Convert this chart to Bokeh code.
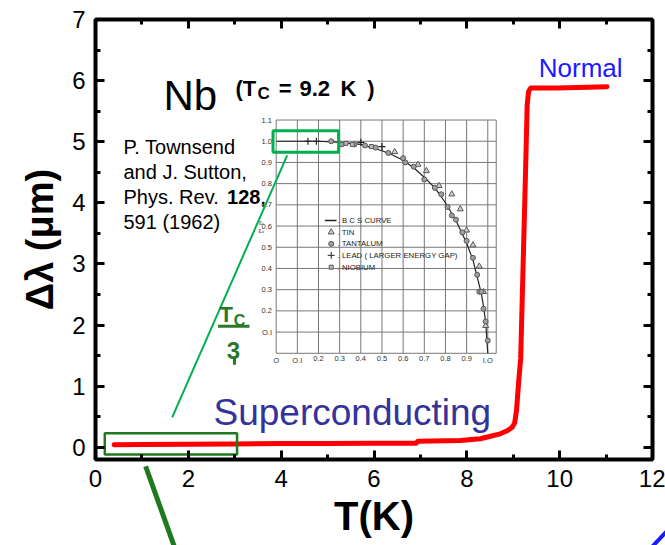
from bokeh.plotting import figure
from bokeh.models import (Range1d, LinearAxis, SingleIntervalTicker, Label,
                          CustomJSTickFormatter)
from bokeh.core.properties import value
from bokeh.embed import file_html
from bokeh.resources import INLINE

FONT = "Liberation Sans"

# ---------------- main data: Nb penetration depth change ----------------
T_K = [0.4, 1.0, 2.0, 3.0, 4.0, 5.0, 6.0, 6.9, 6.95, 7.86, 8.29, 8.51, 8.72,
       8.87, 8.98, 9.03, 9.07, 9.12, 9.16, 9.26, 9.30, 9.33, 9.38, 9.95, 11.02]
dlambda_um = [0.04, 0.045, 0.05, 0.055, 0.06, 0.06, 0.065, 0.065, 0.1, 0.11,
              0.14, 0.18, 0.22, 0.27, 0.33, 0.4, 0.6, 1.1, 1.45, 4.36, 5.6,
              5.82, 5.88, 5.88, 5.90]

# ---------------- inset: Townsend & Sutton (1962) gap vs T/Tc ----------------
bcs_t = [0.0, 0.1, 0.2, 0.3, 0.4, 0.5, 0.55, 0.6, 0.65, 0.7, 0.75, 0.8, 0.85,
         0.9, 0.93, 0.95, 0.97, 0.98, 0.99, 1.0]
bcs_gap = [1.0, 1.0, 1.0, 0.995, 0.985, 0.955, 0.935, 0.91, 0.875, 0.83,
           0.78, 0.71, 0.625, 0.52, 0.44, 0.36, 0.28, 0.22, 0.15, 0.0]
tin_t = [0.56, 0.67, 0.71, 0.77, 0.83, 0.87, 0.9, 0.93, 0.96, 0.98, 0.99]
tin_gap = [0.95, 0.89, 0.86, 0.79, 0.75, 0.68, 0.58, 0.51, 0.41, 0.29, 0.13]
ta_t = [0.26, 0.31, 0.37, 0.42, 0.47, 0.53, 0.6, 0.61, 0.65, 0.7, 0.75, 0.78,
        0.81, 0.83, 0.85, 0.88, 0.9, 0.93, 0.95, 0.96, 0.97, 0.98, 0.99, 1.0]
ta_gap = [1.0, 0.985, 0.985, 0.98, 0.97, 0.945, 0.92, 0.9, 0.88, 0.82, 0.78,
          0.75, 0.69, 0.65, 0.63, 0.57, 0.53, 0.45, 0.37, 0.29, 0.29, 0.21,
          0.15, 0.06]
pb_t = [0.15, 0.19, 0.4, 0.5]
pb_gap = [1.0, 1.0, 0.995, 0.975]
nb_t = [0.33, 0.36, 0.45]
nb_gap = [0.99, 0.985, 0.975]
inset_xticks = [0, 0.1, 0.2, 0.3, 0.4, 0.5, 0.6, 0.7, 0.8, 0.9, 1.0]
inset_xlabels = ["O", "O.I", "0.2", "0.3", "0.4", "0.5", "0.6", "0.7", "0.8", "0.9", "I.O"]
inset_yticks = [0.1, 0.2, 0.3, 0.4, 0.5, 0.6, 0.7, 0.8, 0.9, 1.0, 1.1]
inset_ylabels = ["O.I", "0.2", "0.3", "0.4", "0.5", "0.6", "0.7", "0.8", "0.9", "1.0", "1.1"]
legend_rows = [". B C S  CURVE", ". TIN", ". TANTALUM", ". LEAD ( LARGER ENERGY GAP)", ". NIOBIUM"]
legend_y = [0.626, 0.571, 0.516, 0.462, 0.406]

# inset placement in main data coordinates
INSET_X = (3.893, 8.451)
INSET_Y = (1.538, 5.008)

# frame geometry (pixels) and data ranges
W, H = 665, 545
B_LEFT, B_RIGHT, B_TOP, B_BOTTOM = 95, 13, 19, 86
X0, X1 = 0, 12
Y0, Y1 = -0.2, 7

p = figure(width=W, height=H, x_range=Range1d(X0, X1), y_range=Range1d(Y0, Y1),
           output_backend="svg", toolbar_location=None,
           min_border_left=B_LEFT, min_border_right=B_RIGHT,
           min_border_top=B_TOP, min_border_bottom=B_BOTTOM)
p.background_fill_color = "white"
p.border_fill_color = "white"
p.outline_line_color = "black"
p.outline_line_width = 4
p.xgrid.grid_line_color = None
p.ygrid.grid_line_color = None


def style_axis(ax, show_labels):
    ax.axis_line_color = None
    ax.major_tick_in = 9
    ax.major_tick_out = 0
    ax.minor_tick_in = 5
    ax.minor_tick_out = 0
    ax.major_tick_line_width = 3
    ax.minor_tick_line_width = 3
    ax.major_tick_line_color = "black"
    ax.minor_tick_line_color = "black"
    ax.major_label_text_font = FONT
    ax.major_label_text_font_size = "24px"
    ax.major_label_text_color = "black"
    ax.major_label_standoff = 10
    if not show_labels:
        ax.formatter = CustomJSTickFormatter(code="return ''")
        ax.major_label_standoff = 0


p.xaxis.ticker = SingleIntervalTicker(interval=2, num_minor_ticks=2)
p.yaxis.ticker = SingleIntervalTicker(interval=1, num_minor_ticks=2)
style_axis(p.xaxis[0], True)
style_axis(p.yaxis[0], True)
p.xaxis.axis_label = "T(K)"
p.xaxis.axis_label_text_font = FONT
p.xaxis.axis_label_text_font_size = "40px"
p.xaxis.axis_label_text_font_style = "bold"
p.xaxis.axis_label_text_color = "black"
p.xaxis.axis_label_standoff = 4
p.yaxis.axis_label = "Δλ (μm)"
p.yaxis.axis_label_text_font = FONT
p.yaxis.axis_label_text_font_size = "38px"
p.yaxis.axis_label_text_font_style = "bold"
p.yaxis.axis_label_text_color = "black"
p.yaxis.axis_label_standoff = 8

top_ax = LinearAxis(ticker=SingleIntervalTicker(interval=2, num_minor_ticks=2))
right_ax = LinearAxis(ticker=SingleIntervalTicker(interval=1, num_minor_ticks=2))
style_axis(top_ax, False)
style_axis(right_ax, False)
p.add_layout(top_ax, "above")
p.add_layout(right_ax, "right")

# ---------------- inset drawing ----------------
sub = p.subplot(x_source=Range1d(0, 1), y_source=Range1d(0, 1),
                x_target=Range1d(*INSET_X), y_target=Range1d(*INSET_Y))
grid_col = "#777777"
sub.multi_line(xs=[[v, v] for v in inset_xticks + [1.04]],
               ys=[[0.0, 1.1] for _ in inset_xticks + [1.04]],
               line_color=grid_col, line_width=1)
sub.multi_line(xs=[[0.0, 1.04] for _ in [0.0] + inset_yticks],
               ys=[[v, v] for v in [0.0] + inset_yticks],
               line_color=grid_col, line_width=1)
sub.text(x=inset_xticks, y=[-0.012] * len(inset_xticks), text=inset_xlabels,
         text_align="center", text_baseline="top", text_font=value(FONT),
         text_font_size="7.5px", text_color="#333333")
sub.text(x=[-0.02] * len(inset_yticks), y=inset_yticks, text=inset_ylabels,
         text_align="right", text_baseline="middle", text_font=value(FONT),
         text_font_size="7.5px", text_color="#333333")
sub.line(bcs_t, bcs_gap, line_color="#222222", line_width=1.2)
sub.scatter(tin_t, tin_gap, marker="triangle", size=6, fill_color="#d0d0d0",
            line_color="#555555", line_width=1)
sub.scatter(ta_t, ta_gap, marker="circle", size=5, fill_color="#a0a0a0",
            line_color="#555555", line_width=1)
sub.scatter(pb_t, pb_gap, marker="cross", size=7, line_color="#222222", line_width=1.2)
sub.scatter(nb_t, nb_gap, marker="square", size=4, fill_color="#bbbbbb",
            line_color="#555555", line_width=1)
# inset legend
sub.segment(x0=[0.23], y0=[legend_y[0]], x1=[0.285], y1=[legend_y[0]],
            line_color="#222222", line_width=1.5)
sub.scatter([0.26], [legend_y[1]], marker="triangle", size=6, fill_color="#d0d0d0",
            line_color="#555555")
sub.scatter([0.26], [legend_y[2]], marker="circle", size=5, fill_color="#a0a0a0",
            line_color="#555555")
sub.scatter([0.26], [legend_y[3]], marker="cross", size=7, line_color="#222222")
sub.scatter([0.26], [legend_y[4]], marker="square", size=4, fill_color="#bbbbbb",
            line_color="#555555")
sub.text(x=[0.29] * len(legend_rows), y=legend_y, text=legend_rows,
         text_align="left", text_baseline="middle", text_font=value(FONT),
         text_font_size="7.8px", text_color="#222222")
sub.text(x=[-0.07, -0.07], y=[0.615, 0.575], text=["εₜ", "εₒ"], text_align="center",
         text_baseline="middle", text_font=value("DejaVu Sans"), text_font_size="6.5px",
         text_color="#333333")
# green zoom box in inset
sub.quad(left=[-0.015], right=[0.295], bottom=[0.948], top=[1.05],
         fill_color=None, line_color="#00b050", line_width=3)

# ---------------- main curve ----------------
p.line(T_K, dlambda_um, line_color="#ff0000", line_width=5, line_join="round",
       line_cap="round")

# green box on main plot and connector
p.quad(left=[0.2], right=[3.05], bottom=[-0.12], top=[0.23], fill_color=None,
       line_color="#1f7a1f", line_width=2.5)
p.segment(x0=[1.652], y0=[0.49], x1=[4.13], y1=[4.775], line_color="#00b050",
          line_width=2)

# ---------------- texts ----------------
def lab(x, y, text, size, color="black", style="normal", align="left"):
    p.add_layout(Label(x=x, y=y, text=text, text_font=FONT, text_font_size=size,
                       text_color=color, text_font_style=style, text_align=align,
                       text_baseline="alphabetic"))

lab(1.465, 5.757, "Nb", "42px")
lab(3.016, 5.871, "(T", "22px", style="bold")
lab(3.489, 5.785, "C", "17px", style="bold")
lab(3.949, 5.871, "=", "22px", style="bold")
lab(4.395, 5.871, "9.2", "22px", style="bold")
lab(5.278, 5.871, "K", "22px", style="bold")
lab(5.853, 5.871, ")", "22px", style="bold")
lab(0.603, 4.911, "P. Townsend", "20px")
lab(0.603, 4.502, "and J. Sutton,", "20px")
lab(0.603, 4.093, "Phys. Rev. ", "20px")
lab(2.835, 4.093, "128", "20px", style="bold")
lab(3.55, 4.093, ",", "20px")
lab(0.603, 3.684, "591 (1962)", "20px")
lab(2.542, 0.574, "Superconducting", "37px", color="#333399")
lab(9.55, 6.203, "Normal", "26px", color="#1a1aff")
# Tc/3 fraction
GREEN = "#287828"
lab(2.671, 2.18, "T", "22px", color=GREEN, style="bold")
lab(2.98, 2.067, "C", "16px", color=GREEN, style="bold")
lab(2.973, 1.584, "3", "24px", color=GREEN, style="bold", align="center")
p.segment(x0=[2.641], y0=[1.982], x1=[3.318], y1=[1.982], line_color=GREEN,
          line_width=3)
p.segment(x0=[2.994], y0=[1.471], x1=[2.994], y1=[1.35], line_color=GREEN,
          line_width=3)

# ---------------- transparent overlay for the arrows leaving the frame ----------------
# same data coordinates as the main plot, but its frame spans the whole canvas
sx = (X1 - X0) / (W - B_LEFT - B_RIGHT)
sy = (Y1 - Y0) / (H - B_TOP - B_BOTTOM)
ov = figure(width=W, height=H, output_backend="svg", toolbar_location=None,
            x_range=Range1d(X0 - B_LEFT * sx, X1 + B_RIGHT * sx),
            y_range=Range1d(Y0 - B_BOTTOM * sy, Y1 + B_TOP * sy),
            min_border=0, margin=(-H, 0, 0, 0))
ov.axis.visible = False
ov.grid.visible = False
ov.outline_line_color = None
ov.background_fill_alpha = 0
ov.border_fill_alpha = 0
ov.line([1.08, 1.78], [-0.31, -1.8], line_color="#1f7a1f", line_width=5)
ov.line([12.0, 12.4], [-1.62, -1.3], line_color="#1a1aff", line_width=4)

open("out.html", "w").write(file_html([p, ov], INLINE))
